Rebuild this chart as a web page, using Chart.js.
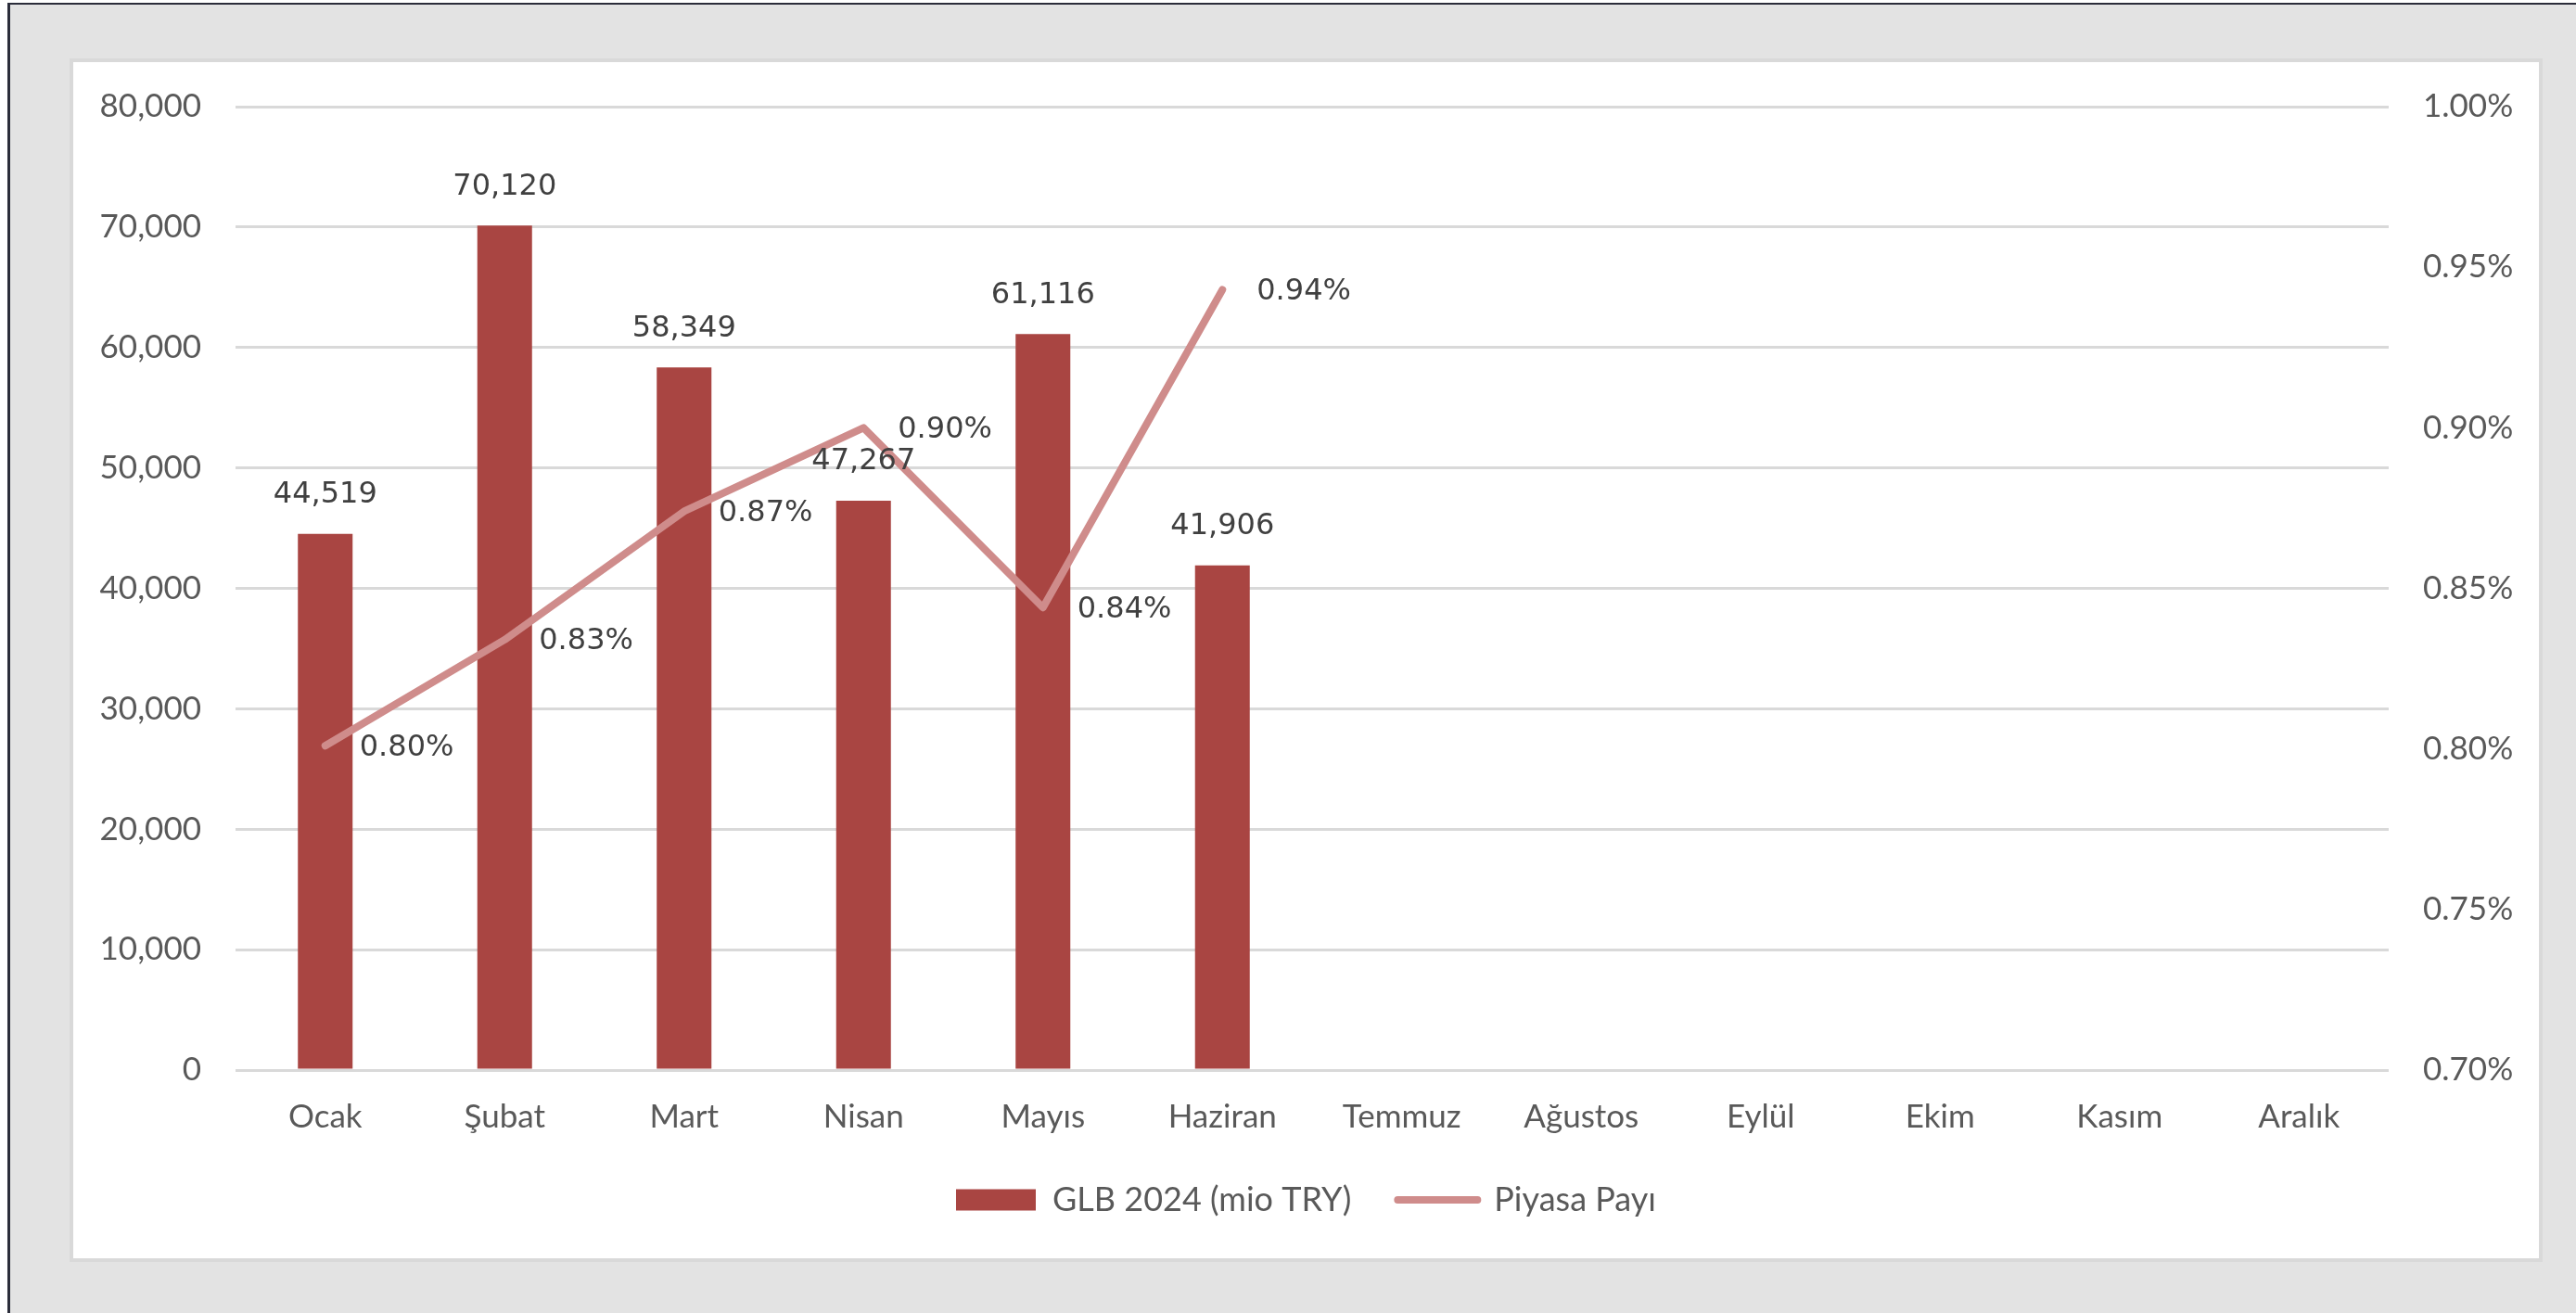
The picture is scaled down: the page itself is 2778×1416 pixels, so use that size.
<!DOCTYPE html>
<html>
<head>
<meta charset="utf-8">
<script src="https://cdn.jsdelivr.net/npm/chart.js@4/dist/chart.umd.min.js"></script>
<style>
    html, body { margin: 0; padding: 0; background: #ffffff; }
    #frame {
        position: absolute; left: 8px; top: 3px; right: 0; bottom: 0;
        background: #e3e3e3;
        border-top: 2px solid #2b2d3a;
        border-left: 3px solid #2b2d3a;
    }
    #box {
        position: absolute; left: 75px; top: 63px;
        width: 2667px; height: 1298px;
        box-sizing: border-box;
        border: 4px solid #d9d9d9;
        background: #ffffff;
    }
    #wrap { position: relative; width: 2659px; height: 1290px; }
</style>
</head>
<body>
<div id="frame"></div>
<div id="box"><div id="wrap"><canvas id="chart"></canvas></div></div>
<script>
    // Months
    const months = ['Ocak', 'Şubat', 'Mart', 'Nisan', 'Mayıs', 'Haziran',
        'Temmuz', 'Ağustos', 'Eylül', 'Ekim', 'Kasım', 'Aralık'];

    // GLB 2024 (mio TRY)
    const glbValues = [44519, 70120, 58349, 47267, 61116, 41906,
        null, null, null, null, null, null];

    // Piyasa Payı (%)
    const shareValues = [0.801, 0.834, 0.874, 0.900, 0.844, 0.943,
        null, null, null, null, null, null];

    const barLabel = 'GLB 2024 (mio TRY)';
    const lineLabel = 'Piyasa Payı';

    const barColor = '#a94542';
    const lineColor = '#cf8c8b';
    const textColor = '#595959';
    const tickFont = { family: 'Lato', size: 35 };

    /**
     * Value labels over bars and next to line points
     */
    const valueLabels = {
        id: 'valueLabels',
        afterDatasetsDraw: function(chart) {
            const ctx = chart.ctx;
            ctx.save();
            ctx.font = '32px "DejaVu Sans"';
            ctx.fillStyle = '#404040';

            ctx.textAlign = 'center';
            ctx.textBaseline = 'middle';
            chart.getDatasetMeta(0).data.forEach(function(bar, i) {
                if (glbValues[i] == null) return;
                ctx.fillText(glbValues[i].toLocaleString('en-US'), bar.x, bar.y - 42);
            });

            ctx.textAlign = 'left';
            chart.getDatasetMeta(1).data.forEach(function(pt, i) {
                if (shareValues[i] == null) return;
                ctx.fillText(shareValues[i].toFixed(2) + '%', pt.x + 37, pt.y + 2);
            });
            ctx.restore();
        }
    };

    // fixed axis size, and keep tick padding out of the vertical layout
    function fixWidth(w) {
        return function(scale) {
            scale.width = w;
            scale.paddingTop = 10;
            scale.paddingBottom = 10;
        };
    }

    new Chart(document.getElementById('chart'), {
        data: {
            labels: months,
            datasets: [{
                type: 'bar',
                label: barLabel,
                data: glbValues,
                backgroundColor: barColor,
                borderWidth: 0,
                barPercentage: 0.61,
                categoryPercentage: 0.5,
                yAxisID: 'y',
                order: 1
            }, {
                type: 'line',
                label: lineLabel,
                data: shareValues,
                borderColor: lineColor,
                backgroundColor: lineColor,
                borderWidth: 8,
                borderCapStyle: 'round',
                borderJoinStyle: 'round',
                pointRadius: 0,
                tension: 0,
                spanGaps: false,
                yAxisID: 'y1',
                order: 0
            }]
        },
        options: {
            responsive: true,
            maintainAspectRatio: false,
            animation: false,
            devicePixelRatio: 1,
            layout: {
                padding: { left: 0, right: 0, top: 48, bottom: 35 }
            },
            plugins: {
                tooltip: { enabled: false },
                legend: {
                    position: 'bottom',
                    labels: {
                        usePointStyle: true,
                        pointStyleWidth: 86,
                        boxHeight: 23,
                        padding: 50,
                        color: textColor,
                        font: { family: 'Lato', size: 36 },
                        sort: function(a, b) { return a.datasetIndex - b.datasetIndex; },
                        generateLabels: function(chart) {
                            return chart.data.datasets.map(function(ds, i) {
                                return {
                                    text: ds.label,
                                    datasetIndex: i,
                                    fillStyle: i === 0 ? barColor : lineColor,
                                    strokeStyle: i === 0 ? barColor : lineColor,
                                    lineWidth: i === 0 ? 0 : 8,
                                    lineCap: 'round',
                                    pointStyle: i === 0 ? 'rect' : 'line',
                                    fontColor: textColor,
                                    hidden: false
                                };
                            });
                        }
                    }
                }
            },
            scales: {
                x: {
                    offset: true,
                    grid: { display: false, drawTicks: false },
                    border: { display: false },
                    ticks: { color: textColor, font: tickFont, padding: 30, maxRotation: 0, autoSkip: false },
                    afterFit: function(scale) { scale.height = 72; }
                },
                y: {
                    position: 'left',
                    min: 0,
                    max: 80000,
                    grid: { color: '#d9d9d9', lineWidth: 3, drawTicks: false },
                    border: { display: false },
                    ticks: {
                        stepSize: 10000,
                        color: textColor,
                        font: tickFont,
                        padding: 37,
                        callback: function(v) { return v.toLocaleString('en-US'); }
                    },
                    afterFit: fixWidth(175)
                },
                y1: {
                    position: 'right',
                    min: 0.7,
                    max: 1.0,
                    grid: { drawOnChartArea: false, drawTicks: false },
                    border: { display: false },
                    ticks: {
                        stepSize: 0.05,
                        color: textColor,
                        font: tickFont,
                        padding: 37,
                        callback: function(v) { return v.toFixed(2) + '%'; }
                    },
                    afterFit: fixWidth(162)
                }
            }
        },
        plugins: [valueLabels]
    });
</script>
</body>
</html>
